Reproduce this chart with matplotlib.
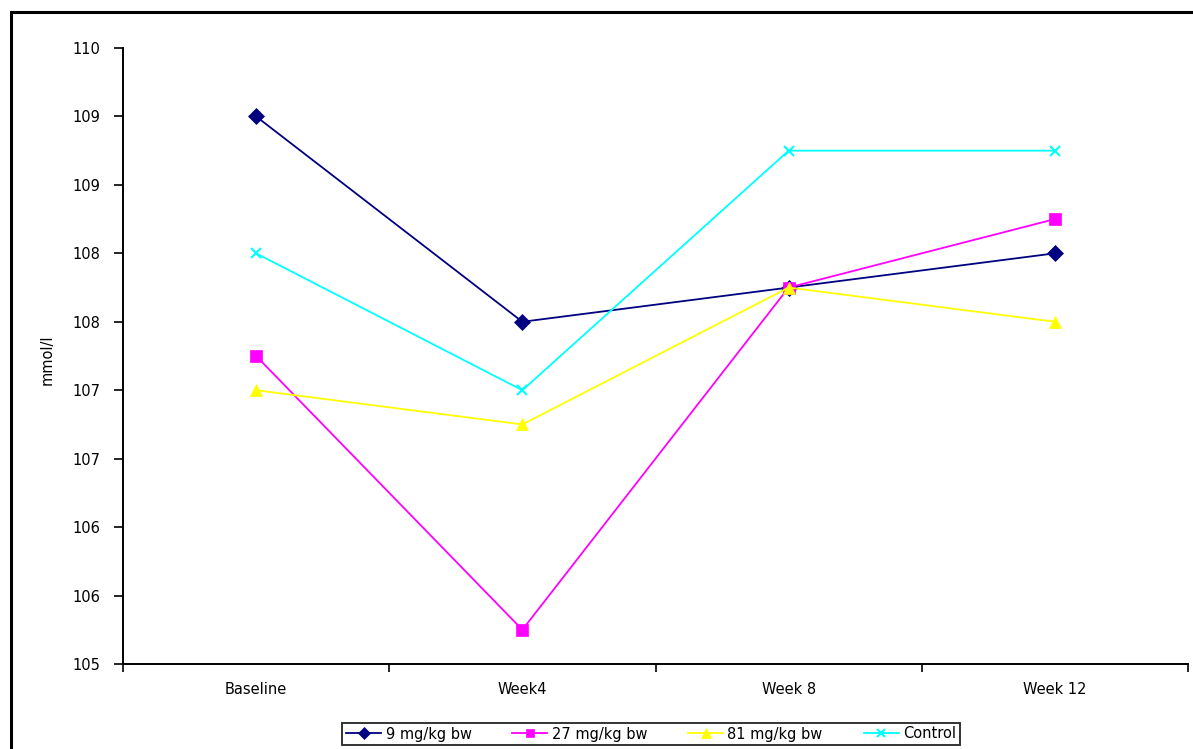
import math
import matplotlib
matplotlib.use("Agg")
import matplotlib.pyplot as plt
from matplotlib.patches import Rectangle
from matplotlib.ticker import FixedLocator, FuncFormatter

categories = ["Baseline", "Week4", "Week 8", "Week 12"]
series_names = ["9 mg/kg bw", "27 mg/kg bw", "81 mg/kg bw", "Control"]
dose9 = [109.0, 107.5, 107.75, 108.0]
dose27 = [107.25, 105.25, 107.75, 108.25]
dose81 = [107.0, 106.75, 107.75, 107.5]
control = [108.0, 107.0, 108.75, 108.75]
y_ticks = [105.0, 105.5, 106.0, 106.5, 107.0, 107.5, 108.0, 108.5, 109.0, 109.5]

colors = ["#000080", "#FF00FF", "#FFFF00", "#00FFFF"]
markers = ["D", "s", "^", "x"]
msizes = [8, 8, 9, 7]

plt.rcParams['font.family'] = ['DejaVu Sans']
FS = 10.5

fig = plt.figure(figsize=(11.93, 7.49), dpi=100)
ax = fig.add_axes([123/1193, 1-664/749, (1188-123)/1193, (664-48)/749])

x = list(range(len(categories)))
for vals, name, c, m, ms in zip([dose9, dose27, dose81, control], series_names, colors, markers, msizes):
    ax.plot(x, vals, color=c, marker=m, markersize=ms, linewidth=1.3,
            markeredgewidth=1.5 if m == "x" else 0.5, markeredgecolor=c, label=name)

ax.set_xlim(-0.5, len(categories) - 0.5)
ax.set_ylim(105, 109.5)

ax.yaxis.set_major_locator(FixedLocator(y_ticks))
ax.yaxis.set_major_formatter(FuncFormatter(lambda v, pos: str(int(math.floor(v + 0.5)))))

ax.set_xticks([i - 0.5 for i in range(len(categories) + 1)])
ax.set_xticklabels([])
ax.set_xticks(x, minor=True)
ax.set_xticklabels(categories, minor=True)
ax.tick_params(axis='x', which='minor', length=0, pad=13, labelsize=FS)
ax.tick_params(axis='x', which='major', length=6, width=1.2, direction='out')
ax.tick_params(axis='y', which='major', length=6.5, width=1.2, direction='out', pad=10, labelsize=FS)

for s in ["top", "right"]:
    ax.spines[s].set_visible(False)
for s in ["left", "bottom"]:
    ax.spines[s].set_linewidth(1.4)

fig.text(47/1193, 1-360/749, "mmol/l", rotation=90, ha='center', va='center', fontsize=FS)

leg = fig.legend(loc='center', bbox_to_anchor=(651/1193, 1-734/749), ncol=4,
                 fontsize=FS, frameon=True, fancybox=False, handlelength=2.4,
                 handletextpad=0.3, columnspacing=2.8, borderpad=0.25, markerscale=0.8)
leg.get_frame().set_edgecolor('black')
leg.get_frame().set_linewidth(1.4)

border = Rectangle((11/1193, -0.05), 1.2, 0.05 + 1 - 12/749, transform=fig.transFigure,
                   fill=False, edgecolor='black', linewidth=2.2, clip_on=False)
fig.patches.append(border)

fig.savefig("out.png", dpi=100)
